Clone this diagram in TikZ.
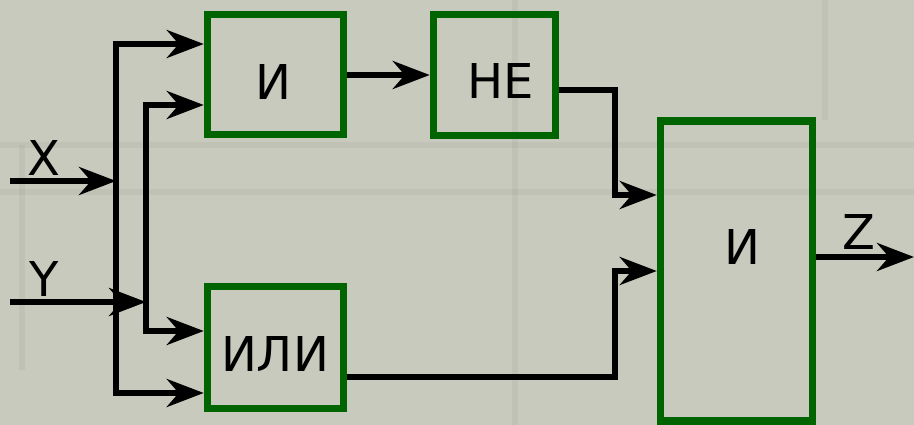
\documentclass[tikz,border=0pt]{standalone}
\usepackage{fontspec}
\setmainfont{DejaVu Sans}
\usetikzlibrary{arrows.meta}
\definecolor{bg}{RGB}{199,202,188}
\definecolor{gatec}{RGB}{0,100,0}
\tikzset{
  gate/.style={draw=gatec, line width=7.5pt, inner sep=0pt, outer sep=3.75pt},
  lbl/.style={font=\fontsize{48}{56}\selectfont, inner sep=0pt, text=black},
  wire/.style={draw=black, line width=5.5pt, line join=miter},
  arr/.style={wire, -{Stealth[length=37pt, width=28pt, inset=12pt]}},
  texture/.style={line width=6pt, draw=black, opacity=0.035}
}
\begin{document}
\begin{tikzpicture}[x=1pt, y=-1pt]
\useasboundingbox (0,0) rectangle (914,425);
\fill[bg] (0,0) rectangle (914,425);
% faint stone texture
\draw[texture] (0,145) -- (914,145);
\draw[texture] (0,192) -- (914,192);
\draw[texture] (515,0) -- (515,425);
\draw[texture] (22,145) -- (22,370);
\draw[texture] (825,0) -- (825,120);
% gates
\node[gate, minimum width=136pt, minimum height=120pt] (and1) at (275.5,74.5) {};
\node[gate, minimum width=122pt, minimum height=121pt] (notg) at (494.5,75) {};
\node[gate, minimum width=136pt, minimum height=122pt] (org) at (275.5,347.5) {};
\node[gate, minimum width=152pt, minimum height=300pt] (and2) at (736.5,271) {};
% gate texts
\node[lbl] (t1) at (273,82.5) {И};
\node[lbl] (t2) at (501,81) {НЕ};
\node[lbl] (t3) at (275,354) {ИЛИ};
\node[lbl] (t4) at (742,247.5) {И};
% input / output labels
\node[lbl] (lx) at (44,158.5) {X};
\node[lbl] (ly) at (44,279.5) {Y};
\node[lbl] (lz) at (859,232) {Z};
% coordinates
\coordinate (xin) at (10,181);
\coordinate (xbus) at (116,181);
\coordinate (xt) at (116,44);
\coordinate (xb) at (116,393);
\coordinate (yin) at (10,302);
\coordinate (ybus) at (146,302);
\coordinate (yt) at (146,105);
\coordinate (yb) at (146,331);
\coordinate (a1) at (0,75);
\coordinate (n1) at (0,90);
\coordinate (nc) at (615,90);
\coordinate (i1) at (0,195);
\coordinate (o1) at (0,377);
\coordinate (oc) at (615,377);
\coordinate (i2) at (0,271);
\coordinate (zy) at (0,257);
\coordinate (zend) at (914,257);
% wires
\draw[arr] (xin) -- (xbus);
\draw[arr] (xbus) -- (xt) -- (xt -| and1.west);
\draw[arr] (xbus) -- (xb) -- (xb -| org.west);
\draw[arr] (yin) -- (ybus);
\draw[arr] (ybus) -- (yt) -- (yt -| and1.west);
\draw[arr] (ybus) -- (yb) -- (yb -| org.west);
\draw[arr] (and1.east |- a1) -- (notg.west |- a1);
\draw[arr] (notg.east |- n1) -- (nc) |- (and2.west |- i1);
\draw[arr] (org.east |- o1) -- (oc) |- (and2.west |- i2);
\draw[arr] (and2.east |- zy) -- (zend);
\end{tikzpicture}
\end{document}
